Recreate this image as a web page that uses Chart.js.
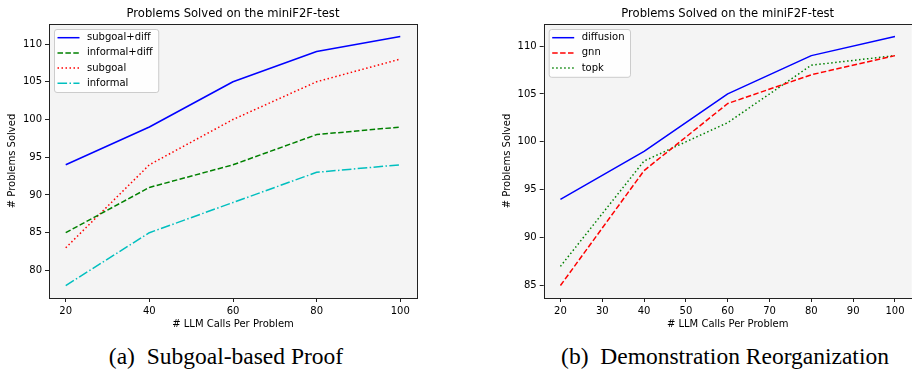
<!DOCTYPE html>
<html><head><meta charset="utf-8">
<script src="https://cdn.jsdelivr.net/npm/chart.js@4/dist/chart.umd.min.js"></script>
<style>
html,body{margin:0;padding:0;background:#fff;width:912px;height:371px;overflow:hidden;}
canvas{position:absolute;top:0;}
#c1{left:0}
#c2{left:460px}
.cap{position:absolute;font-family:"Liberation Serif","Times New Roman",serif;font-size:23.5px;color:#000;white-space:pre;top:343px;line-height:26px;text-align:center;}
#cap1{left:26px;width:400px;}
#cap2{left:525px;width:400px;}
</style></head><body>
<canvas id="c1" width="460" height="335"></canvas>
<canvas id="c2" width="452" height="335"></canvas>
<div class="cap" id="cap1">(a)  Subgoal-based Proof</div>
<div class="cap" id="cap2">(b)  Demonstration Reorganization</div>
<script>
// ---- data ----
const chartTitle = "Problems Solved on the miniF2F-test";
const xLabel = "# LLM Calls Per Problem";
const yLabel = "# Problems Solved";

const leftCalls = [20, 40, 60, 80, 100];
const subgoalDiff = [94, 99, 105, 109, 111];
const informalDiff = [85, 91, 94, 98, 99];
const subgoal = [83, 94, 100, 105, 108];
const informal = [78, 85, 89, 93, 94];
const leftXTicks = [20, 40, 60, 80, 100];
const leftYTicks = [80, 85, 90, 95, 100, 105, 110];

const rightCalls = [20, 40, 60, 80, 100];
const diffusion = [94, 99, 105, 109, 111];
const gnn = [85, 97, 104, 107, 109];
const topk = [87, 98, 102, 108, 109];
const rightXTicks = [20, 30, 40, 50, 60, 70, 80, 90, 100];
const rightYTicks = [85, 90, 95, 100, 105, 110];

// ---- styles ----
const FONT = "DejaVu Sans";
const LW = 1.5;
const DASH = [5.5, 2.4];
const DOT = [1.5, 2.5];
const DASHDOT = [9.6, 2.4, 1.5, 2.4];

function pts(xs, ys) { return xs.map((x, i) => ({x: x, y: ys[i]})); }
function ds(label, xs, ys, color, dash) {
  return {label, data: pts(xs, ys), borderColor: color, backgroundColor: color,
    borderWidth: LW, borderDash: dash, pointRadius: 0, tension: 0, fill: false,
    borderJoinStyle: 'round', borderCapStyle: 'butt'};
}
function limits(arrs, m) {
  const all = [].concat(...arrs);
  const lo = Math.min(...all), hi = Math.max(...all), r = hi - lo;
  return [lo - m * r, hi + m * r];
}

const framePlugin = {
  id: 'frame',
  beforeDatasetsDraw(chart) {
    const {ctx, chartArea: a} = chart;
    ctx.save();
    ctx.fillStyle = '#f4f4f4';
    ctx.fillRect(a.left, a.top, a.right - a.left, a.bottom - a.top);
    ctx.restore();
  },
  afterDatasetsDraw(chart) {
    const {ctx, chartArea: a} = chart;
    ctx.save();
    ctx.strokeStyle = '#222';
    ctx.lineWidth = 1;
    ctx.strokeRect(Math.round(a.left) + 0.5, Math.round(a.top) + 0.5,
      Math.round(a.right - a.left), Math.round(a.bottom - a.top));
    ctx.restore();
  },
  afterDraw(chart) {
    const {ctx, chartArea: a} = chart;
    const dsets = chart.data.datasets;
    ctx.save();
    // title, centred over the plot area
    ctx.font = '11.6px "' + FONT + '"';
    ctx.fillStyle = '#000';
    ctx.textAlign = 'center';
    ctx.textBaseline = 'middle';
    ctx.fillText(chartTitle, (a.left + a.right) / 2, 14);
    // legend
    ctx.font = '10px "' + FONT + '"';
    const tw = Math.max(...dsets.map(d => ctx.measureText(d.label).width));
    const padL = 3.5, sample = 22, gap = 7.5, padR = 5.5, rowH = 15.2, edge = 8.7;
    const x0 = a.left + 5, y0 = a.top + 5;
    const w = padL + sample + gap + tw + padR;
    const h = edge * 2 + rowH * (dsets.length - 1);
    ctx.beginPath();
    if (ctx.roundRect) ctx.roundRect(x0 + 0.5, y0 + 0.5, w, h, 2.5); else ctx.rect(x0 + 0.5, y0 + 0.5, w, h);
    ctx.fillStyle = 'rgba(255,255,255,0.85)';
    ctx.fill();
    ctx.strokeStyle = '#cccccc';
    ctx.lineWidth = 1;
    ctx.stroke();
    dsets.forEach((d, i) => {
      const cy = y0 + edge + rowH * i;
      ctx.beginPath();
      ctx.setLineDash(d.borderDash || []);
      ctx.strokeStyle = d.borderColor;
      ctx.lineWidth = LW;
      ctx.moveTo(x0 + padL, cy);
      ctx.lineTo(x0 + padL + sample, cy);
      ctx.stroke();
      ctx.setLineDash([]);
      ctx.fillStyle = '#000';
      ctx.textBaseline = 'middle';
      ctx.textAlign = 'left';
      ctx.fillText(d.label, x0 + padL + sample + gap, cy);
    });
    ctx.restore();
  }
};

function fixTicks(list) {
  return function (s) { s.ticks = list.map(v => ({value: v})); };
}

function makeChart(id, datasets, xTicks, yTicks, xr, yr, padLeft, padRight) {
  const axisCommon = {
    grid: {drawOnChartArea: false, drawTicks: true, tickLength: 4, color: '#222', lineWidth: 1},
    border: {display: false},
  };
  return new Chart(document.getElementById(id), {
    type: 'line',
    data: {datasets},
    options: {
      responsive: false, animation: false, devicePixelRatio: 1,
      layout: {padding: {left: padLeft, right: padRight, top: 24, bottom: 5}},
      plugins: {
        legend: {display: false}, tooltip: {enabled: false},
        title: {display: false}
      },
      scales: {
        x: Object.assign({}, axisCommon, {
          type: 'linear', min: xr[0], max: xr[1],
          afterBuildTicks: fixTicks(xTicks),
          afterFit(s) { s.height = 32; s.paddingLeft = 0; s.paddingRight = 0; s.paddingTop = 0; s.paddingBottom = 0; },
          ticks: {color: '#000', padding: 3, maxRotation: 0, autoSkip: false,
            font: {family: FONT, size: 10}, callback: v => String(v)},
          title: {display: true, text: xLabel, color: '#000',
            font: {family: FONT, size: 10, lineHeight: 1.2}, padding: {top: 0, bottom: 0}}
        }),
        y: Object.assign({}, axisCommon, {
          type: 'linear', min: yr[0], max: yr[1],
          afterBuildTicks: fixTicks(yTicks),
          afterFit(s) { s.width = 49; s.paddingLeft = 0; s.paddingRight = 0; s.paddingTop = 0; s.paddingBottom = 0; },
          ticks: {color: '#000', padding: 3, autoSkip: false,
            font: {family: FONT, size: 10}, callback: v => String(v)},
          title: {display: true, text: yLabel, color: '#000',
            font: {family: FONT, size: 10, lineHeight: 1.2}, padding: {top: 6.3, bottom: 0}}
        })
      }
    },
    plugins: [framePlugin]
  });
}

makeChart('c1', [
  ds('subgoal+diff', leftCalls, subgoalDiff, '#0000ff', []),
  ds('informal+diff', leftCalls, informalDiff, '#008000', DASH),
  ds('subgoal', leftCalls, subgoal, '#ff0000', DOT),
  ds('informal', leftCalls, informal, '#00bfbf', DASHDOT)
], leftXTicks, leftYTicks, limits([leftCalls], 0.05),
   limits([subgoalDiff, informalDiff, subgoal, informal], 0.05), 0, 43);

makeChart('c2', [
  ds('diffusion', rightCalls, diffusion, '#0000ff', []),
  ds('gnn', rightCalls, gnn, '#ff0000', DASH),
  ds('topk', rightCalls, topk, '#008000', DOT)
], rightXTicks, rightYTicks, limits([rightCalls], 0.05),
   limits([diffusion, gnn, topk], 0.05), 34.7, 0.3);
</script>
</body></html>
